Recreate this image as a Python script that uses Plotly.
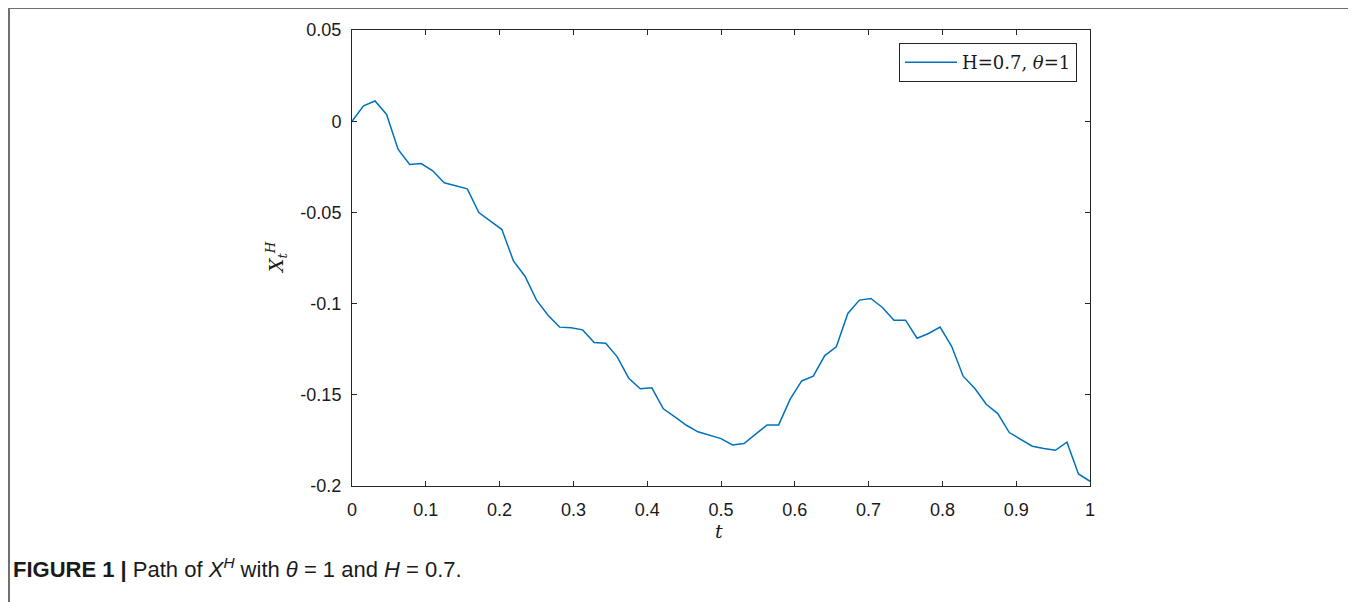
import plotly.graph_objects as go

# Path of X^H (65 samples on [0,1])
t_vals = [i / 64 for i in range(65)]
x_vals = [
    0.0000, 0.0084, 0.0111, 0.0037, -0.0155, -0.0237, -0.0232, -0.0272, -0.0338,
    -0.0355, -0.0371, -0.0501, -0.0546, -0.0594, -0.0766, -0.0850, -0.0981,
    -0.1064, -0.1129, -0.1133, -0.1144, -0.1213, -0.1217, -0.1292, -0.1409,
    -0.1467, -0.1462, -0.1577, -0.1621, -0.1667, -0.1703, -0.1721, -0.1740,
    -0.1775, -0.1767, -0.1716, -0.1665, -0.1665, -0.1524, -0.1424, -0.1398,
    -0.1285, -0.1237, -0.1054, -0.0981, -0.0972, -0.1021, -0.1091, -0.1091,
    -0.1190, -0.1164, -0.1129, -0.1234, -0.1398, -0.1464, -0.1552, -0.1603,
    -0.1707, -0.1745, -0.1782, -0.1794, -0.1804, -0.1760, -0.1934, -0.1974,
]
series_name = "H=0.7, <i>θ</i>=1"

x_ticks = [0, 0.1, 0.2, 0.3, 0.4, 0.5, 0.6, 0.7, 0.8, 0.9, 1]
x_tick_text = ["0", "0.1", "0.2", "0.3", "0.4", "0.5", "0.6", "0.7", "0.8", "0.9", "1"]
y_ticks = [0.05, 0, -0.05, -0.1, -0.15, -0.2]
y_tick_text = ["0.05", "0", "-0.05", "-0.1", "-0.15", "-0.2"]

# page is rendered with an 8px body margin -> figure is 1348x594
W, H = 1348, 594
PL, PR, PT, PB = 352, 1090, 30, 486  # plot area in page pixels


def px(x):
    return (x - PL) / (PR - PL)


def py(y):
    return (PB - y) / (PB - PT)


fig = go.Figure()
fig.add_trace(go.Scatter(x=t_vals, y=x_vals, mode="lines", name=series_name,
                         line=dict(color="#0072BD", width=1.5)))

axis_common = dict(showline=True, linecolor="#262626", linewidth=1, mirror="ticks",
                   ticks="inside", ticklen=5, tickcolor="#262626", showgrid=False,
                   zeroline=False,
                   tickfont=dict(family="Liberation Sans, Arial", size=18, color="#1a1a1a"))

fig.update_xaxes(range=[0, 1], tickvals=x_ticks, ticktext=x_tick_text,
                 ticklabelstandoff=7, **axis_common)
fig.update_yaxes(range=[-0.2, 0.05], tickvals=y_ticks, ticktext=y_tick_text,
                 ticklabelstandoff=6, **axis_common)

fig.update_layout(
    width=W, height=H, autosize=False,
    margin=dict(l=PL - 8, r=W - (PR - 8), t=PT - 8, b=H - (PB - 8)),
    plot_bgcolor="white", paper_bgcolor="white",
    showlegend=True,
    legend=dict(x=px(1077), y=py(43), xanchor="right", yanchor="top",
                bordercolor="#262626", borderwidth=1, bgcolor="white",
                itemwidth=52, tracegroupgap=0,
                font=dict(family="DejaVu Serif", size=18, color="#1a1a1a")),
)

# outer frame
fig.add_shape(type="rect", xref="paper", yref="paper",
              x0=px(9), x1=px(1353), y0=py(640), y1=py(8),
              line=dict(color="#707070", width=2), fillcolor="rgba(0,0,0,0)", layer="below")

# axis titles
fig.add_annotation(text="<i>t</i>", xref="paper", yref="paper",
                   x=px(719), y=py(531), xanchor="center", yanchor="middle", showarrow=False,
                   font=dict(family="DejaVu Serif", size=19, color="#1a1a1a"))
fig.add_annotation(text="<i>X</i><sub><i>t</i></sub><sup><i>H</i></sup>", xref="paper", yref="paper",
                   x=px(276), y=py(258), xanchor="center", yanchor="middle",
                   showarrow=False, textangle=-90,
                   font=dict(family="DejaVu Serif", size=19, color="#1a1a1a"))

# caption
fig.add_annotation(text="<b>FIGURE 1 |</b> Path of <i>X</i><sup><i>H</i></sup> with <i>θ</i> = 1 and <i>H</i> = 0.7.",
                   xref="paper", yref="paper", x=px(11), y=py(568),
                   xanchor="left", yanchor="middle", showarrow=False,
                   font=dict(family="Liberation Sans, Arial", size=22, color="#1a1a1a"))

fig.write_html("out.html")
